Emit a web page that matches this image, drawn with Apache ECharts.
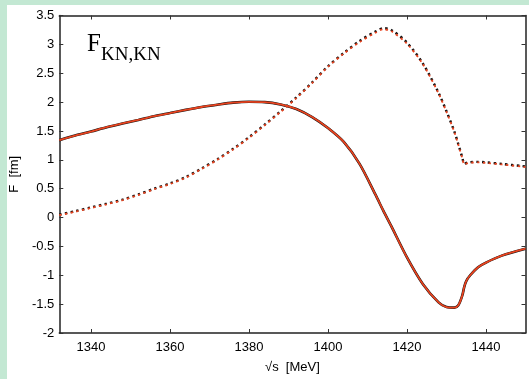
<!DOCTYPE html>
<html>
<head>
<meta charset="utf-8">
<script src="https://cdn.jsdelivr.net/npm/echarts@6/dist/echarts.min.js"></script>
<style>
  html, body { margin: 0; padding: 0; background: #c3e8d3; }
  #chart-container { width: 529px; height: 379px; }
</style>
</head>
<body>
<div id="chart-container"></div>
<script>
// sqrt(s) in MeV
var sqrtS = [1332, 1336, 1340, 1344, 1348, 1352, 1356, 1360, 1364, 1368, 1372, 1376, 1380,
  1384, 1388, 1392, 1396, 1400, 1404, 1408, 1412, 1414, 1416, 1420, 1424, 1428, 1430,
  1432, 1433, 1434, 1434.5, 1435, 1436, 1438, 1440, 1444, 1450];

// solid curve
var solidVals = [1.34, 1.42, 1.49, 1.565, 1.63, 1.69, 1.755, 1.81, 1.865, 1.915, 1.955, 1.99, 2.005,
  2.0, 1.96, 1.88, 1.74, 1.55, 1.31, 0.93, 0.40, 0.12, -0.145, -0.69, -1.15, -1.47, -1.55,
  -1.56, -1.52, -1.35, -1.20, -1.10, -1.00, -0.86, -0.78, -0.66, -0.54];

// dotted curves (black and red)
var dottedBlack = [0.05, 0.11, 0.175, 0.24, 0.31, 0.40, 0.50, 0.59, 0.70, 0.85, 1.01, 1.19, 1.39,
  1.61, 1.84, 2.08, 2.34, 2.62, 2.85, 3.06, 3.22, 3.28, 3.25, 3.03, 2.67, 2.16, 1.84,
  1.49, 1.27, 1.04, 0.93, 0.945, 0.96, 0.965, 0.955, 0.93, 0.885];
var dottedRed = [0.04, 0.10, 0.165, 0.23, 0.30, 0.39, 0.49, 0.58, 0.69, 0.84, 1.00, 1.18, 1.38,
  1.60, 1.83, 2.07, 2.33, 2.61, 2.84, 3.04, 3.20, 3.26, 3.23, 3.01, 2.66, 2.15, 1.83,
  1.48, 1.26, 1.03, 0.92, 0.935, 0.95, 0.955, 0.945, 0.92, 0.875];

var xTicks = [1340, 1360, 1380, 1400, 1420, 1440];

function pairs(xs, ys) {
  return xs.map(function (x, i) { return [x, ys[i]]; });
}

var chartDom = document.getElementById('chart-container');
var myChart = echarts.init(chartDom);

var RED = '#e8431f';
var labelFont = { color: '#000', fontSize: 13, fontFamily: 'Liberation Sans' };

function xAx(pos, show) {
  return {
    type: 'value', position: pos, min: 1332, max: 1450,
    axisLine: { show: true, onZero: false, lineStyle: { color: '#222', width: 1.5 } },
    axisTick: {
      show: true, inside: true, length: 4, lineStyle: { color: '#333' },
      customValues: xTicks
    },
    axisLabel: Object.assign({
      show: show, margin: 8, customValues: xTicks,
      formatter: function (v) { return String(v); }
    }, labelFont),
    splitLine: { show: false },
    name: show ? '\u221As  [MeV]' : '',
    nameLocation: 'middle', nameGap: 28,
    nameTextStyle: labelFont
  };
}

function yAx(pos, show) {
  return {
    type: 'value', position: pos, min: -2, max: 3.5, interval: 0.5,
    axisLine: { show: true, onZero: false, lineStyle: { color: '#222', width: 1.5 } },
    axisTick: { show: true, inside: true, length: 4, lineStyle: { color: '#333' } },
    axisLabel: Object.assign({
      show: show, margin: 5,
      formatter: function (v) { return String(v); }
    }, labelFont),
    splitLine: { show: false },
    name: show ? 'F  [fm]' : '',
    nameLocation: 'middle', nameGap: 33, nameRotate: 90,
    nameTextStyle: labelFont
  };
}

var option = {
  backgroundColor: '#c3e8d3',
  animation: false,
  grid: { left: 55.5, right: 3.5, top: 15.5, bottom: 41 },
  graphic: [
    { type: 'rect', z: -10, silent: true,
      shape: { x: 7, y: 5, width: 522, height: 374 },
      style: { fill: '#ffffff' } },
    { type: 'text', left: 87, top: 32, z: 10,
      style: { text: 'F', fontSize: 25, fontFamily: 'Liberation Serif', fill: '#000' } },
    { type: 'text', left: 101, top: 46, z: 10,
      style: { text: 'KN,KN', fontSize: 19, fontFamily: 'Liberation Serif', fill: '#000' } }
  ],
  xAxis: [xAx('bottom', true), xAx('top', false)],
  yAxis: [yAx('left', true), yAx('right', false)],
  series: [
    {
      name: 'solid black', type: 'line', data: pairs(sqrtS, solidVals),
      smooth: 0.3, symbol: 'none',
      lineStyle: { color: '#111', width: 2.6 }, z: 2
    },
    {
      name: 'solid red', type: 'line', data: pairs(sqrtS, solidVals),
      smooth: 0.3, symbol: 'none',
      lineStyle: { color: RED, width: 1.8 }, z: 3
    },
    {
      name: 'dotted black', type: 'line', data: pairs(sqrtS, dottedBlack),
      smooth: 0.3, symbol: 'none',
      lineStyle: { color: '#111', width: 2.4, type: [2.4, 3.4] }, z: 2
    },
    {
      name: 'dotted red', type: 'line', data: pairs(sqrtS, dottedRed),
      smooth: 0.3, symbol: 'none',
      lineStyle: { color: RED, width: 1.8, type: [2.4, 3.4] }, z: 3
    }
  ]
};

myChart.setOption(option);
</script>
</body>
</html>
